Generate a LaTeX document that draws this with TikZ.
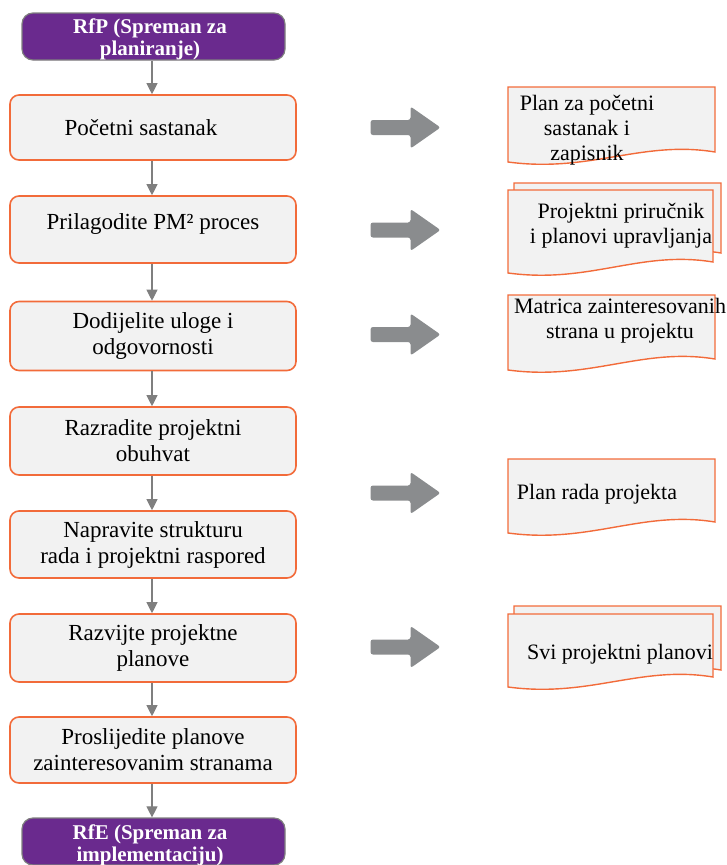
\documentclass[tikz,border=0pt]{standalone}
\usepackage{fontspec}
\setmainfont{Liberation Serif}
\usetikzlibrary{arrows.meta}

\definecolor{stepfill}{HTML}{F2F2F2}
\definecolor{steporange}{HTML}{F26B3A}
\definecolor{milestone}{HTML}{6A2A8E}
\definecolor{milestoneedge}{HTML}{7F7F7F}
\definecolor{linkgray}{HTML}{7F7F7F}
\definecolor{blockgray}{HTML}{8A8C8E}

\tikzset{
  milestonebox/.style={draw=milestoneedge, line width=1.2pt, fill=milestone,
    rounded corners=11pt, minimum width=263pt, minimum height=47pt,
    text=white, align=center, inner sep=0pt,
    font=\bfseries\fontsize{21}{22}\selectfont},
  stepbox/.style={draw=steporange, line width=1.6pt, fill=stepfill,
    rounded corners=9pt, minimum width=286pt, align=center, inner sep=0pt,
    font=\fontsize{23}{26}\selectfont},
  flow/.style={draw=linkgray, line width=1.1pt,
    -{Triangle[width=11pt,length=11pt]}},
  sheet/.style={draw=steporange, line width=1.4pt, fill=stepfill},
  sheettext/.style={align=center, inner sep=0pt,
    font=\fontsize{22}{25}\selectfont},
  blockarrow/.pic={
    \fill[blockgray, rounded corners=2.5pt]
      (-35,-7.5) -- (5,-7.5) -- (5,-21) -- (35,0) -- (5,21)
      -- (5,7.5) -- (-35,7.5) -- cycle;
  }
}

% document sheet with a wavy lower edge:
% left, top, right, lower right end, lower left end
\newcommand\docsheet[5]{%
  \filldraw[sheet] (#1,#2) -- (#3,#2) -- (#3,#4)
    .. controls ({#3-73},{#4-12}) and ({#1+82},{#5+11}) .. (#1,#5) -- cycle;}

\begin{document}
\begin{tikzpicture}[x=1pt,y=-1pt]
\useasboundingbox (0,0) rectangle (727,865);
\clip (0,0) rectangle (727,865);

% main process column
\node[milestonebox] (rfp) at (153.5,36.5) {};
\node[white, align=center, inner sep=0pt,
  font=\bfseries\fontsize{21}{22}\selectfont] (rfptext) at (150,39)
  {RfP (Spreman za\\planiranje)};
\node[stepbox, minimum height=65pt] (s1) at (153,127.5)
  {Početni sastanak\rule{24pt}{0pt}};
\node[stepbox, minimum height=67pt] (s2) at (153,229.5)
  {Prilagodite PM² proces\\[-10pt]\mbox{}};
\node[stepbox, minimum height=69pt] (s3) at (153,336)
  {Dodijelite uloge i\\odgovornosti};
\node[stepbox, minimum height=68pt] (s4) at (153,441)
  {Razradite projektni\\obuhvat};
\node[stepbox, minimum height=67pt] (s5) at (153,544.5)
  {Napravite strukturu\\rada i projektni raspored};
\node[stepbox, minimum height=68pt] (s6) at (153,648)
  {Razvijte projektne\\planove};
\node[stepbox, minimum height=66pt] (s7) at (153,750)
  {Proslijedite planove\\zainteresovanim stranama};
\node[milestonebox] (rfe) at (153.5,841.5) {};
\node[white, align=center, inner sep=0pt,
  font=\bfseries\fontsize{21}{22}\selectfont] (rfetext) at (150,845)
  {RfE (Spreman za\\implementaciju)};

\draw[flow] (rfp.south -| 152,0) -- (s1.north -| 152,0);
\draw[flow] (s1.south -| 152,0) -- (s2.north -| 152,0);
\draw[flow] (s2.south -| 152,0) -- (s3.north -| 152,0);
\draw[flow] (s3.south -| 152,0) -- (s4.north -| 152,0);
\draw[flow] (s4.south -| 152,0) -- (s5.north -| 152,0);
\draw[flow] (s5.south -| 152,0) -- (s6.north -| 152,0);
\draw[flow] (s6.south -| 152,0) -- (s7.north -| 152,0);
\draw[flow] (s7.south -| 152,0) -- (rfe.north -| 152,0);

% output arrows
\pic at (405.5,127.5) {blockarrow};
\pic at (405.5,230) {blockarrow};
\pic at (405.5,334.5) {blockarrow};
\pic at (405.5,493) {blockarrow};
\pic at (405.5,647) {blockarrow};

% deliverables
\docsheet{508}{87}{715}{152}{162}
\node[sheettext] (d1) at (587,130) {Plan za početni\\sastanak i\\zapisnik};

\docsheet{514}{183}{721}{253}{263}
\docsheet{508}{190}{713}{262}{273}
\node[sheettext] (d2) at (621,226) {Projektni priručnik\\i planovi upravljanja};

\docsheet{508}{295}{715}{359}{370}
\node[sheettext] (d3) at (620,321) {Matrica zainteresovanih\\strana u projektu};

\docsheet{508}{459}{715}{522}{533}
\node[sheettext] (d4) at (597,494) {Plan rada projekta};

\docsheet{514}{606}{721}{670}{680}
\docsheet{508}{614}{713}{677}{687}
\node[sheettext] (d5) at (620,654) {Svi projektni planovi};
\end{tikzpicture}
\end{document}
